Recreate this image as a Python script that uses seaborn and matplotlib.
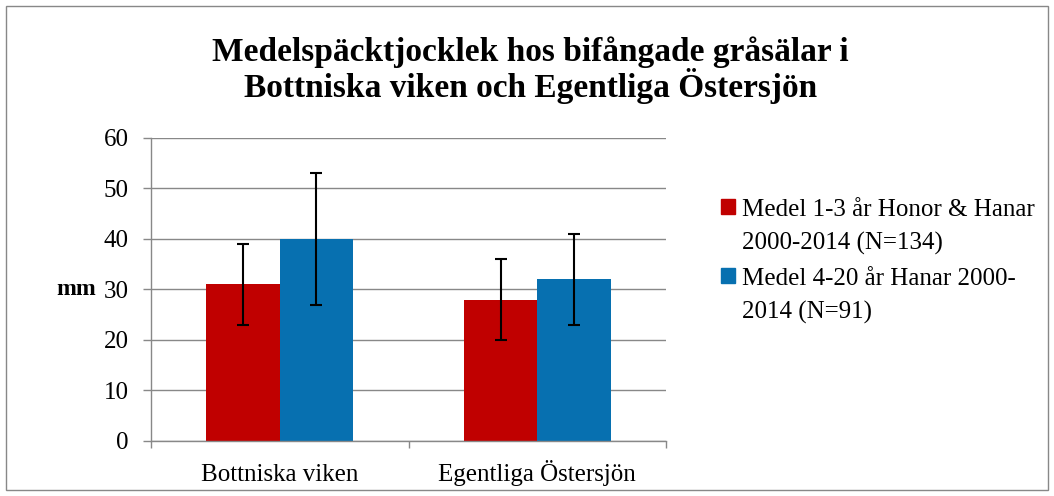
import pandas as pd
import matplotlib
matplotlib.use("Agg")
import matplotlib.pyplot as plt
from matplotlib.patches import Rectangle
import seaborn as sns

# data #
regions = ["Bottniska viken", "Egentliga Östersjön"]
series = ["Medel 1-3 år Honor & Hanar\n2000-2014 (N=134)",
          "Medel 4-20 år Hanar 2000-\n2014 (N=91)"]
mean_young = [31, 28]
mean_old = [40, 32]
err_young = [8, 8]
err_old = [13, 9]
colors = ["#C00000", "#0770B0"]

df = pd.DataFrame({
    "region": regions * 2,
    "serie": [series[0]] * 2 + [series[1]] * 2,
    "mm": mean_young + mean_old,
})
errs = [err_young, err_old]

sns.set_theme(style="white")
plt.rcParams['font.family'] = ['Liberation Serif', 'DejaVu Serif']
plt.rcParams['text.color'] = 'black'
plt.rcParams['axes.labelcolor'] = 'black'

fig = plt.figure(figsize=(10.54, 4.96), dpi=100)
ax = fig.add_axes([0.1433, 0.1109, 0.4886, 0.6109])

sns.barplot(data=df, x="region", y="mm", hue="serie", hue_order=series,
            palette=colors, width=0.57, saturation=1, errorbar=None,
            linewidth=0, ax=ax, zorder=2, legend=False)

# error bars #
for cont, e in zip(ax.containers, errs):
    xs = [p.get_x() + p.get_width() / 2 for p in cont.patches]
    ys = [p.get_height() for p in cont.patches]
    ax.errorbar(xs, ys, yerr=e, fmt="none", ecolor="black",
                elinewidth=1.5, capsize=4.3, capthick=1.5, zorder=3)

ax.set_ylim(0, 60)
ax.set_xlim(-0.5, 1.5)
ax.set_yticks(range(0, 61, 10))
ax.yaxis.grid(True, color="#888888", linewidth=1.0, zorder=0)
ax.set_axisbelow(True)
for s in ["top", "right"]:
    ax.spines[s].set_visible(False)
for s in ["left", "bottom"]:
    ax.spines[s].set_color("#888888")
    ax.spines[s].set_linewidth(1.0)

ax.tick_params(axis="y", which="major", left=True, length=5.8, width=1.0,
               color="#888888", labelcolor="black", labelsize=18, pad=10.5)
ax.tick_params(axis="x", which="major", bottom=False, labelcolor="black",
               labelsize=18, pad=23)
for lab in ax.get_xticklabels():
    lab.set_va("baseline")
ax.set_xticks([-0.5, 0.5, 1.5], minor=True)
ax.tick_params(axis="x", which="minor", bottom=True, length=5, width=1.0,
               color="#888888")
ax.set_xlabel("")
ax.set_ylabel("mm", rotation=0, fontsize=17, fontweight="bold",
              ha="center", va="center")
ax.yaxis.set_label_coords(-0.146, 0.5)

# title #
fig.text(0.503, 1 - 61 / 496, "Medelspäcktjocklek hos bifångade gråsälar i",
         ha="center", va="baseline", fontsize=24, fontweight="bold")
fig.text(0.503, 1 - 97 / 496, "Bottniska viken och Egentliga Östersjön",
         ha="center", va="baseline", fontsize=24, fontweight="bold")

handles = [Rectangle((0, 0), 1, 1, color=c) for c in colors]
leg = fig.legend(handles, series, loc="upper left", bbox_to_anchor=(0.672, 0.625),
                 frameon=False, fontsize=18, handlelength=0.55, handleheight=0.55,
                 handletextpad=0.3, labelspacing=0.5, borderpad=0)
for t in leg.get_texts():
    t.set_linespacing(1.65)
try:
    for col in leg._legend_handle_box.get_children():
        for item in col.get_children():
            item.align = "top"
except Exception:
    pass

# outer border #
fig.patches.append(Rectangle((0.006, 0.012), 0.988, 0.976, transform=fig.transFigure,
                             fill=False, edgecolor="#888888", linewidth=1))

fig.savefig("out.png", dpi=100)
